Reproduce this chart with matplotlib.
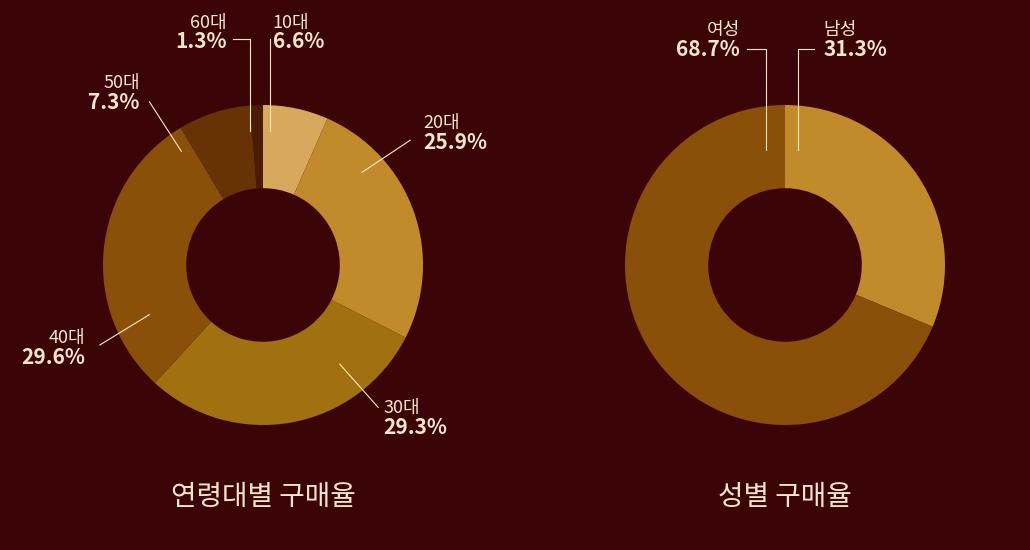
import matplotlib.pyplot as plt

plt.rcParams["font.family"] = ["Noto Sans CJK KR", "DejaVu Sans"]

bg = "#3b0507"
cream = "#f6e7c9"

age_labels = ["10대", "20대", "30대", "40대", "50대", "60대"]
age_values = [6.6, 25.9, 29.3, 29.6, 7.3, 1.3]
age_colors = ["#d8a95c", "#c18b2b", "#a2710f", "#8a500a", "#673306", "#4a1b05"]

sex_labels = ["남성", "여성"]
sex_values = [31.3, 68.7]
sex_colors = ["#c18b2b", "#8a4f08"]

fig = plt.figure(figsize=(10.3, 5.5), dpi=100, facecolor=bg)
W, H = 1030, 550


def make_ax(cx, cy):
    ax = fig.add_axes([(cx - 200) / W, (H - cy - 200) / H, 400 / W, 400 / H])
    ax.set_xlim(-1.25, 1.25)
    ax.set_ylim(-1.25, 1.25)
    ax.set_aspect("equal")
    ax.axis("off")
    return ax


def donut(ax, values, colors):
    ax.pie(values, colors=colors, startangle=90, counterclock=False,
           radius=1.0, wedgeprops=dict(width=0.52, linewidth=0))


def label(ax, xs, ys, tx, ty, ha, name, val):
    ax.plot(xs, ys, color=cream, lw=0.8, clip_on=False)
    ax.text(tx, ty + 0.02, name, color=cream, fontsize=13, ha=ha, va="bottom", clip_on=False)
    ax.text(tx, ty + 0.02, f"{val}%", color=cream, fontsize=15,
            fontweight="bold", ha=ha, va="top", clip_on=False)


# 연령대별 (leader line path, text anchor, alignment)
age_layout = [
    ([0.044, 0.044], [0.84, 1.41], 0.06, 1.44, "left"),
    ([0.62, 0.92], [0.58, 0.78], 1.0, 0.81, "left"),
    ([0.48, 0.72], [-0.62, -0.89], 0.75, -0.97, "left"),
    ([-0.71, -1.02], [-0.31, -0.5], -1.11, -0.53, "right"),
    ([-0.51, -0.71], [0.71, 1.02], -0.77, 1.06, "right"),
    ([-0.08, -0.08, -0.19], [0.84, 1.41, 1.41], -0.225, 1.44, "right"),
]
ax1 = make_ax(263, 265)
donut(ax1, age_values, age_colors)
for (xs, ys, tx, ty, ha), name, val in zip(age_layout, age_labels, age_values):
    label(ax1, xs, ys, tx, ty, ha, name, val)

# 성별
ax2 = make_ax(785, 265)
donut(ax2, sex_values, sex_colors)
label(ax2, [0.08, 0.08, 0.18], [0.72, 1.35, 1.35], 0.24, 1.39, "left", sex_labels[0], sex_values[0])
label(ax2, [-0.12, -0.12, -0.24], [0.72, 1.35, 1.35], -0.28, 1.39, "right", sex_labels[1], sex_values[1])

fig.text(263 / W, 1 - 497 / H, "연령대별 구매율", color=cream, fontsize=20, ha="center", va="center")
fig.text(785 / W, 1 - 497 / H, "성별 구매율", color=cream, fontsize=20, ha="center", va="center")

fig.savefig("out.png", dpi=100, facecolor=bg)
